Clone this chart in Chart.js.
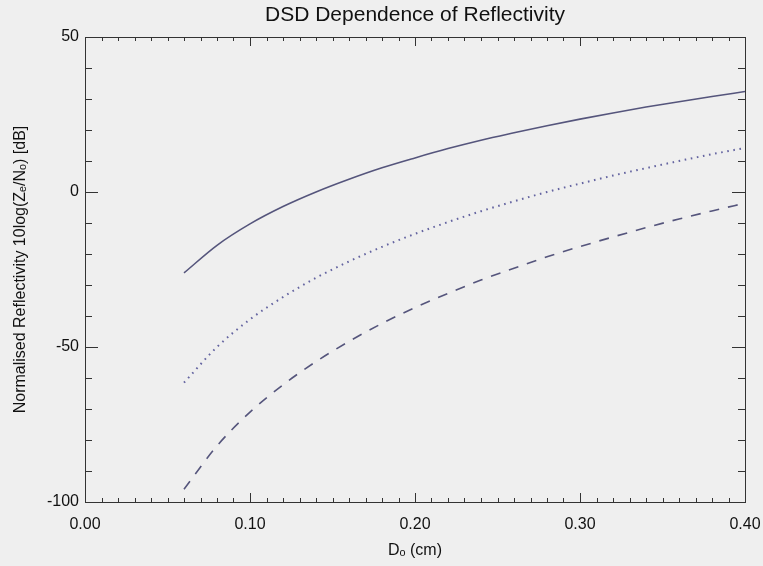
<!DOCTYPE html>
<html>
<head>
<meta charset="utf-8">
<script src="https://cdn.jsdelivr.net/npm/chart.js@4/dist/chart.umd.min.js"></script>
<style>
  html, body { margin: 0; padding: 0; background: #efefef; }
  #wrap { width: 763px; height: 566px; }
</style>
</head>
<body>
<div id="wrap"><canvas id="dsdChart" width="763" height="566"></canvas></div>
<script>
// D0 values (cm) and normalised reflectivity (dB)
const d0 = [0.06, 0.08, 0.10, 0.12, 0.14, 0.16, 0.18, 0.20, 0.22, 0.24, 0.26, 0.28, 0.30, 0.32, 0.34, 0.36, 0.38, 0.40];
const zSolid  = [-26.1, -17.2, -10.3, -4.7, 0.0, 4.1, 7.8, 11.0, 14.0, 16.7, 19.1, 21.4, 23.5, 25.5, 27.4, 29.1, 30.8, 32.4];
const zDotted = [-61.5, -50.0, -41.1, -33.9, -27.7, -22.4, -17.7, -13.5, -9.7, -6.2, -3.0, 0.0, 2.7, 5.3, 7.7, 10.0, 12.2, 14.2];
const zDashed = [-95.9, -81.9, -71.0, -62.2, -54.7, -48.2, -42.4, -37.3, -32.7, -28.4, -24.6, -20.9, -17.6, -14.5, -11.5, -8.7, -6.1, -3.6];

const xTicks = [0.0, 0.1, 0.2, 0.3, 0.4];
const yTicks = [-100, -50, 0, 50];
const xMinorStep = 0.01;
const yMinorStep = 10;

const chartTitle = 'DSD Dependence of Reflectivity';

const lineColor = '#55557c';
const axisColor = '#333333';
const fontFamily = '"Liberation Sans", Arial, Helvetica, sans-serif';

const toPoints = (ys) => d0.map((d, i) => ({ x: d, y: ys[i] }));

// IDL style box with inward ticks on all four sides, title centred over the plot
const boxTicks = {
    id: 'boxTicks',
    afterDraw(chart) {
        const { ctx, chartArea: a, scales: { x, y } } = chart;
        ctx.save();
        ctx.strokeStyle = axisColor;
        ctx.lineWidth = 1;
        ctx.strokeRect(Math.round(a.left) + 0.5, Math.round(a.top) + 0.5,
                       Math.round(a.width), Math.round(a.height));
        ctx.beginPath();
        const nx = Math.round((x.max - x.min) / xMinorStep);
        for (let k = 0; k <= nx; k++) {
            const v = x.min + k * xMinorStep;
            const px = Math.round(x.getPixelForValue(v)) + 0.5;
            const major = xTicks.some(t => Math.abs(t - v) < 1e-9);
            const len = major ? 9 : 4;
            ctx.moveTo(px, a.bottom); ctx.lineTo(px, a.bottom - len);
            ctx.moveTo(px, a.top); ctx.lineTo(px, a.top + len);
        }
        for (let v = y.min; v <= y.max; v += yMinorStep) {
            const py = Math.round(y.getPixelForValue(v)) + 0.5;
            const major = yTicks.includes(v);
            const len = major ? 13 : 7;
            ctx.moveTo(a.left, py); ctx.lineTo(a.left + len, py);
            ctx.moveTo(a.right, py); ctx.lineTo(a.right - len, py);
        }
        ctx.stroke();

        ctx.fillStyle = '#111';
        ctx.font = '21px ' + fontFamily;
        ctx.textAlign = 'center';
        ctx.textBaseline = 'middle';
        ctx.fillText(chartTitle, (a.left + a.right) / 2, 15);
        ctx.restore();
    }
};

const ctx = document.getElementById('dsdChart').getContext('2d');

new Chart(ctx, {
    type: 'line',
    data: {
        datasets: [
            {
                label: 'solid',
                data: toPoints(zSolid),
                borderColor: lineColor,
                borderWidth: 1.6,
                pointRadius: 0,
                cubicInterpolationMode: 'monotone'
            },
            {
                label: 'dotted',
                data: toPoints(zDotted),
                borderColor: '#6464a0',
                borderWidth: 2,
                borderDash: [1.6, 4.6],
                pointRadius: 0,
                cubicInterpolationMode: 'monotone'
            },
            {
                label: 'dashed',
                data: toPoints(zDashed),
                borderColor: lineColor,
                borderWidth: 1.6,
                borderDash: [10, 9],
                pointRadius: 0,
                cubicInterpolationMode: 'monotone'
            }
        ]
    },
    options: {
        responsive: false,
        animation: false,
        layout: {
            padding: { left: 0, right: 18, top: 37, bottom: 0 }
        },
        plugins: {
            legend: { display: false },
            tooltip: { enabled: false },
            title: { display: false }
        },
        scales: {
            x: {
                type: 'linear',
                min: 0,
                max: 0.4,
                afterBuildTicks: (scale) => { scale.ticks = xTicks.map(v => ({ value: v })); },
                afterFit: (scale) => { scale.height = 64; },
                // tick length only used to push the labels down, marks are drawn by boxTicks
                grid: { display: false, drawTicks: true, tickLength: 13, color: 'rgba(0,0,0,0)' },
                border: { display: false },
                ticks: {
                    color: '#111',
                    font: { family: fontFamily, size: 16 },
                    padding: 0,
                    maxRotation: 0,
                    callback: (v) => Number(v).toFixed(2)
                },
                title: {
                    display: true,
                    text: 'D\u2092 (cm)',
                    color: '#111',
                    font: { family: fontFamily, size: 16 },
                    padding: { top: 0, bottom: 6 }
                }
            },
            y: {
                type: 'linear',
                min: -100,
                max: 50,
                afterBuildTicks: (scale) => { scale.ticks = yTicks.map(v => ({ value: v })); },
                afterFit: (scale) => { scale.width = 85; },
                grid: { display: false, drawTicks: false },
                border: { display: false },
                ticks: {
                    color: '#111',
                    font: { family: fontFamily, size: 16 },
                    padding: 6
                },
                title: {
                    display: true,
                    text: 'Normalised Reflectivity 10log(Z\u2091/N\u2092) [dB]',
                    color: '#111',
                    font: { family: fontFamily, size: 16 },
                    padding: { top: 11, bottom: 0 }
                }
            }
        }
    },
    plugins: [boxTicks]
});
</script>
</body>
</html>
